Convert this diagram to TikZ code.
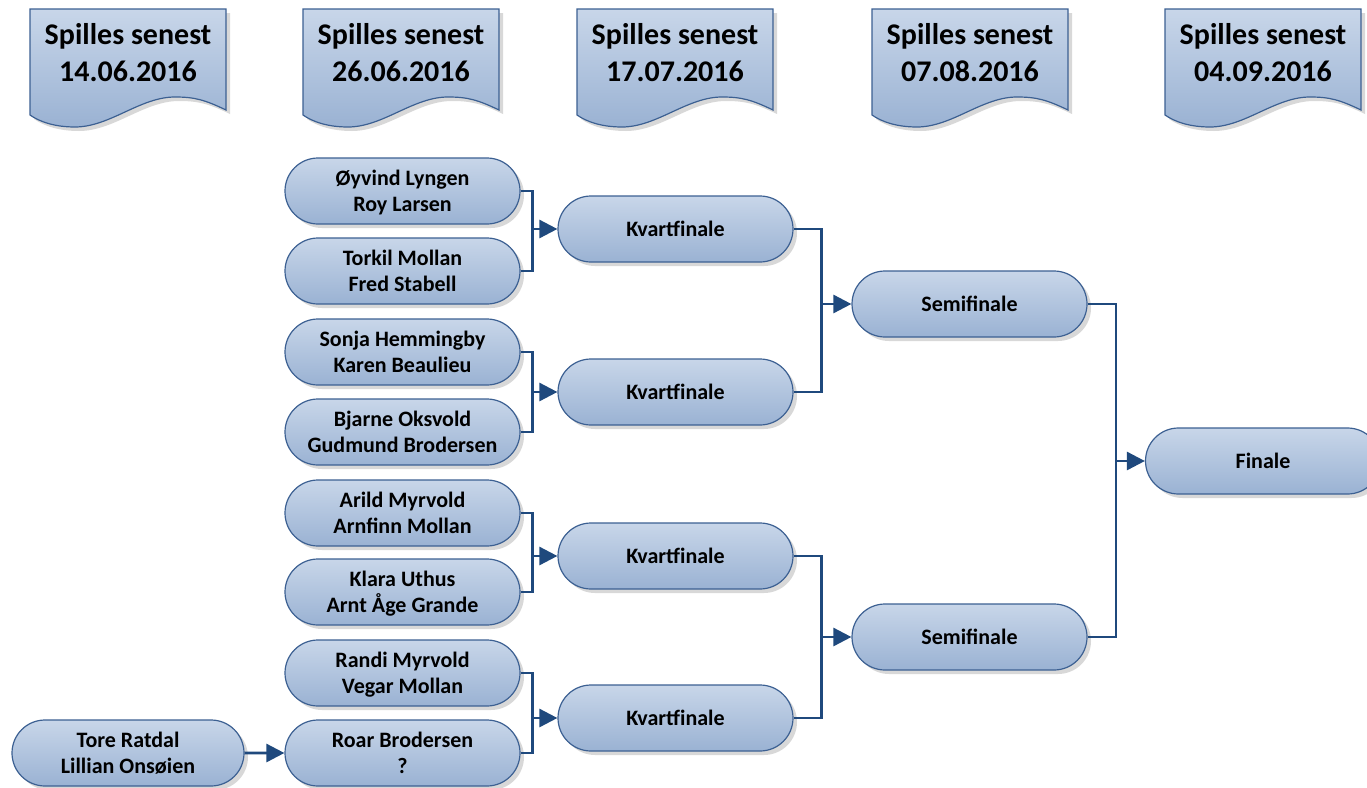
\documentclass[tikz,border=0pt]{standalone}
\usepackage{fontspec}
\setmainfont{Carlito}
\usetikzlibrary{arrows.meta,shapes.misc,shadows}
\definecolor{boxtop}{RGB}{200,214,233}
\definecolor{boxbottom}{RGB}{154,178,211}
\definecolor{boxline}{RGB}{60,96,146}
\definecolor{linkline}{RGB}{31,73,125}
\tikzstyle{boxfill}=[draw=boxline, line width=1.2pt, top color=boxtop, bottom color=boxbottom,
    drop shadow={shadow xshift=4pt, shadow yshift=-4pt, fill=black!30}]
\tikzstyle{match}=[boxfill, rounded rectangle, minimum width=235pt, minimum height=66pt,
    inner sep=0pt, text depth=0pt, align=center, font=\fontsize{22}{26}\selectfont\bfseries]
\tikzstyle{header}=[boxfill]
\tikzstyle{title}=[align=center, font=\fontsize{30}{37}\selectfont\bfseries]
\tikzstyle{link}=[draw=linkline, line width=2.7pt]
\tikzstyle{arrow}=[link, -{Triangle[length=18pt,width=18pt]}]

\begin{document}
\begin{tikzpicture}[x=1pt,y=-1pt]
    \useasboundingbox (0,0) rectangle (1367,787);
    % dates
    \foreach \x/\d [count=\i] in {30/14.06.2016, 303/26.06.2016, 577/17.07.2016, 872/07.08.2016, 1165/04.09.2016} {
        \path[header] (\x,9) -- (\x+196,9) -- (\x+196,110)
            .. controls (\x+175,100) and (\x+165,97) .. (\x+145,97)
            .. controls (\x+110,97) and (\x+80,127) .. (\x+45,127)
            .. controls (\x+25,127) and (\x+10,122) .. (\x,115) -- cycle;
        \node[title] (h\i) at (\x+98,53) {Spilles senest\\\d};
    }
    % first round
    \foreach \y/\name/\who in {191/p1/{Øyvind Lyngen\\Roy Larsen}, 271/p2/{Torkil Mollan\\Fred Stabell},
        352/p3/{Sonja Hemmingby\\Karen Beaulieu}, 432/p4/{Bjarne Oksvold\\Gudmund Brodersen},
        513/p5/{Arild Myrvold\\Arnfinn Mollan}, 592/p6/{Klara Uthus\\Arnt Åge Grande},
        673/p7/{Randi Myrvold\\Vegar Mollan}, 753/p8/{Roar Brodersen\\?}}
        \node[match] (\name) at (402.5,\y) {\who};
    \node[match, minimum width=232pt] (q1) at (128,753) {Tore Ratdal\\Lillian Onsøien};
    \foreach \y/\name in {229/k1, 392/k2, 556/k3, 718/k4}
        \node[match] (\name) at (675.5,\y) {Kvartfinale};
    \foreach \y/\name in {304/s1, 637/s2}
        \node[match] (\name) at (969.5,\y) {Semifinale};
    \node[match] (f) at (1263,461) {Finale};
    % brackets
    \draw[arrow] (q1) -- (p8);
    \foreach \a/\b/\dest/\gap in {p1/p2/k1/25, p3/p4/k2/25, p5/p6/k3/25, p7/p8/k4/25,
        k1/k2/s1/30, k3/k4/s2/30, s1/s2/f/29} {
        \path (\dest.west) ++(-\gap,0) coordinate (j\dest);
        \draw[link] (\a.east) -| (j\dest);
        \draw[link] (\b.east) -| (j\dest);
        \draw[arrow] (j\dest) -- (\dest.west);
    }
\end{tikzpicture}
\end{document}
